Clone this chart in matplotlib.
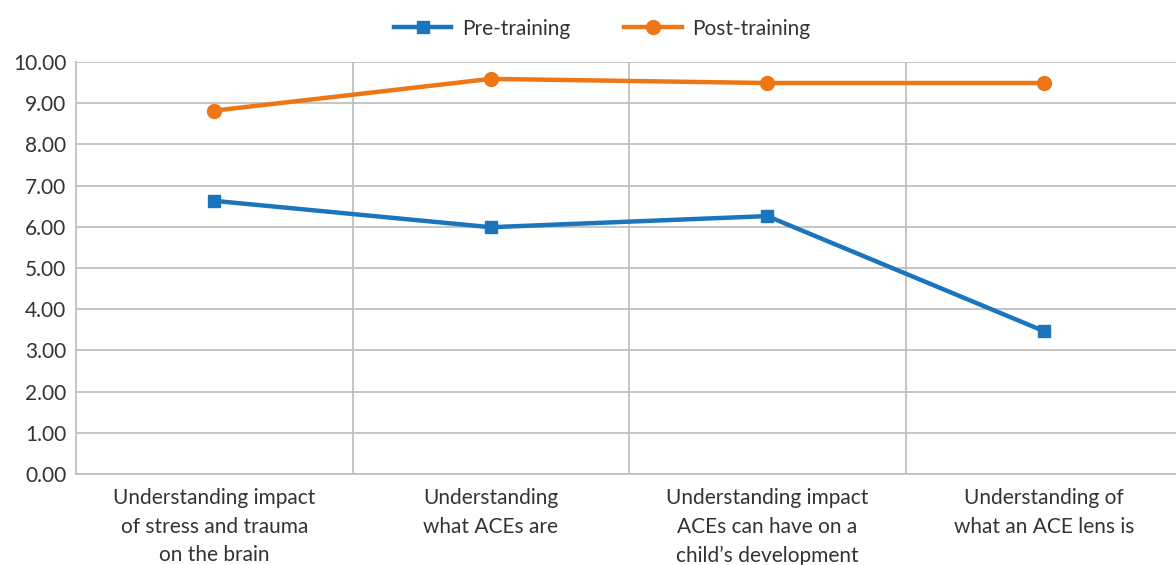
import matplotlib.pyplot as plt

categories = [
    "Understanding impact\nof stress and trauma\non the brain",
    "Understanding\nwhat ACEs are",
    "Understanding impact\nACEs can have on a\nchild\u2019s development",
    "Understanding of\nwhat an ACE lens is",
]
pre_training = [6.63, 5.99, 6.26, 3.47]
post_training = [8.82, 9.59, 9.49, 9.49]
y_ticks = [0, 1, 2, 3, 4, 5, 6, 7, 8, 9, 10]

plt.rcParams['font.family'] = ['Lato', 'DejaVu Sans']

fig = plt.figure(figsize=(11.76, 5.65), dpi=100)
ax = fig.add_axes([76 / 1176, 1 - 474 / 565, 1106 / 1176, 412 / 565])

x = list(range(len(categories)))
ax.plot(x, pre_training, color='#1A75BD', lw=3.2, marker='s', ms=9,
        label='Pre-training')
ax.plot(x, post_training, color='#EF7614', lw=3.2, marker='o', ms=10,
        label='Post-training')

ax.set_xlim(-0.5, len(categories) - 0.5)
ax.set_ylim(0, 10)
ax.set_yticks(y_ticks)
ax.set_yticklabels([f"{v:.2f}" for v in y_ticks], fontsize=15, color='#333333')
ax.set_xticks(x)
ax.set_xticklabels(categories, fontsize=15, color='#333333', linespacing=1.55)
ax.set_xticks([i + 0.5 for i in x[:-1]], minor=True)

ax.grid(True, axis='y', color='#C0C0C0', lw=1.3)
ax.grid(True, axis='x', which='minor', color='#C0C0C0', lw=1.3)
ax.tick_params(axis='both', which='both', length=0)
ax.tick_params(axis='x', pad=10)
ax.tick_params(axis='y', pad=7)
for side in ['left', 'bottom']:
    ax.spines[side].set_color('#C0C0C0')
    ax.spines[side].set_linewidth(1.3)
for side in ['top', 'right']:
    ax.spines[side].set_visible(False)
ax.set_axisbelow(True)

fig.legend(loc='upper center', bbox_to_anchor=(0.512, 1.0), ncol=2, frameon=False,
           fontsize=15, handlelength=2.75, handletextpad=0.5, columnspacing=2.6,
           labelcolor='#333333')

fig.savefig('out.png', dpi=100)
